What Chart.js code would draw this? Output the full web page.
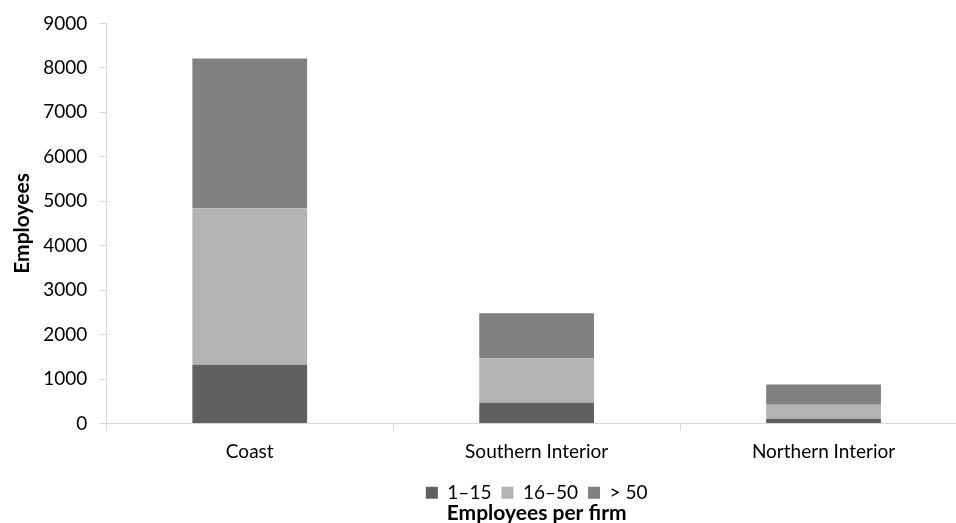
<!DOCTYPE html>
<html>
<head>
<meta charset="utf-8">
<script src="https://cdn.jsdelivr.net/npm/chart.js@4/dist/chart.umd.min.js"></script>
<style>
  html, body { margin: 0; padding: 0; background: #fff; overflow: hidden; }
  #wrap { position: relative; width: 968px; height: 523px; }
</style>
</head>
<body>
<div id="wrap"><canvas id="c"></canvas></div>
<script>
// Employees by region, split by firm size
const regions = ['Coast', 'Southern Interior', 'Northern Interior'];
const firmSizes = ['1–15', '16–50', '> 50'];
const small = [1320, 465, 105];
const medium = [3520, 1005, 315];
const large = [3370, 1010, 460];
const yTicks = [0, 1000, 2000, 3000, 4000, 5000, 6000, 7000, 8000, 9000];

const colors = ['#606060', '#b3b3b3', '#808080'];
const FONT = 'Lato, "Open Sans", sans-serif';
const axisColor = '#d9d9d9';

const series = [small, medium, large];

new Chart(document.getElementById('c'), {
  type: 'bar',
  data: {
    labels: regions,
    datasets: series.map((vals, i) => ({
      label: firmSizes[i],
      data: vals,
      backgroundColor: colors[i],
      borderWidth: 0,
      barPercentage: 0.4,
      categoryPercentage: 1.0
    }))
  },
  options: {
    responsive: true,
    maintainAspectRatio: false,
    animation: false,
    layout: { padding: { left: 1, right: 1, top: 9, bottom: 0 } },
    plugins: {
      legend: {
        position: 'bottom',
        fullSize: false,
        labels: {
          boxWidth: 12,
          boxHeight: 12,
          padding: 10,
          color: '#000',
          font: { family: FONT, size: 19 }
        }
      },
      title: {
        display: true,
        position: 'bottom',
        fullSize: false,
        text: 'Employees per firm',
        color: '#000',
        padding: { top: -12, bottom: -2.5 },
        font: { family: FONT, size: 21, weight: 'bold' }
      },
      tooltip: { enabled: false }
    },
    scales: {
      x: {
        stacked: true,
        grid: {
          display: true,
          offset: true,
          drawOnChartArea: false,
          drawTicks: true,
          tickLength: 7,
          color: axisColor
        },
        border: { display: true, color: axisColor, width: 1 },
        ticks: {
          color: '#000',
          padding: 10,
          font: { family: FONT, size: 19 }
        }
      },
      y: {
        stacked: true,
        min: 0,
        max: 9000,
        afterBuildTicks: (axis) => { axis.ticks = yTicks.map(v => ({ value: v })); },
        grid: {
          display: true,
          drawOnChartArea: false,
          drawTicks: true,
          tickLength: 7,
          color: axisColor
        },
        border: { display: true, color: axisColor, width: 1 },
        ticks: {
          color: '#000',
          padding: 12,
          font: { family: FONT, size: 19 },
          callback: (v) => String(v)
        },
        title: {
          display: true,
          text: 'Employees',
          color: '#000',
          padding: { top: 9, bottom: -4 },
          font: { family: FONT, size: 21, weight: 'bold' }
        }
      }
    }
  }
});
</script>
</body>
</html>
